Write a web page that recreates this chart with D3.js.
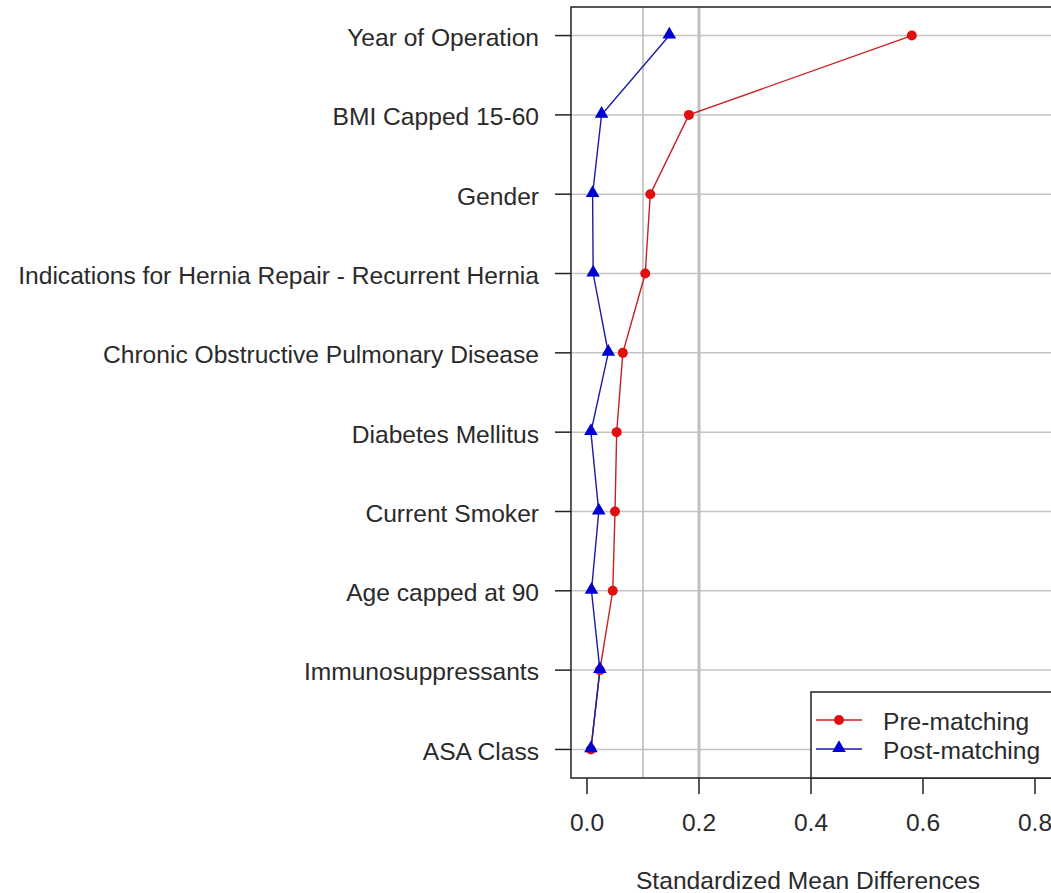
<!DOCTYPE html>
<html><head><meta charset="utf-8">
<script src="https://cdn.jsdelivr.net/npm/d3@7"></script>
<style>body{margin:0;background:#fff;} text{font-family:"Liberation Sans",Arial,sans-serif;}</style>
</head><body>
<svg id="chart" width="1051" height="893"></svg>
<script>
const categories = ["Year of Operation","BMI Capped 15-60","Gender","Indications for Hernia Repair - Recurrent Hernia","Chronic Obstructive Pulmonary Disease","Diabetes Mellitus","Current Smoker","Age capped at 90","Immunosuppressants","ASA Class"];
const preMatching  = [0.580,0.182,0.113,0.104,0.064,0.053,0.050,0.046,0.023,0.007];
const postMatching = [0.147,0.026,0.010,0.011,0.038,0.007,0.021,0.008,0.023,0.007];
const xTicks = [0.0,0.2,0.4,0.6,0.8];
const xTickLabels = ["0.0","0.2","0.4","0.6","0.8"];
const refLines = [0.1,0.2];
const seriesNames = ["Pre-matching","Post-matching"];

const svg = d3.select("#chart");
const x = d3.scaleLinear().domain([0,0.8]).range([587,1035]);
const n = categories.length;
const y = d3.scaleLinear().domain([0.64, n+0.36]).range([778,7]);
const yPos = i => y(n - i);
const xLeft = x(-0.0286), xRight = 1070, yTop = y(n+0.36), yBot = y(0.64);
const FS = 24.6;

svg.append("g").selectAll("line").data(categories).join("line")
  .attr("x1",xLeft).attr("x2",xRight)
  .attr("y1",(d,i)=>yPos(i)).attr("y2",(d,i)=>yPos(i))
  .attr("stroke","#c4c4c4").attr("stroke-width",1.5);
svg.append("g").selectAll("line").data(refLines).join("line")
  .attr("x1",d=>x(d)).attr("x2",d=>x(d)).attr("y1",yTop).attr("y2",yBot)
  .attr("stroke",(d,i)=>i===0?"#b8b8b8":"#c0c0c0").attr("stroke-width",(d,i)=>i===0?1.5:3);

const line = d3.line().x(d=>x(d.v)).y(d=>yPos(d.i));
const pre = preMatching.map((v,i)=>({v,i}));
const post = postMatching.map((v,i)=>({v,i}));
svg.append("path").attr("d",line(pre)).attr("fill","none").attr("stroke","#c82020").attr("stroke-width",1.4);
svg.append("path").attr("d",line(post)).attr("fill","none").attr("stroke","#1a1aa8").attr("stroke-width",1.4);
svg.append("g").selectAll("circle").data(pre).join("circle")
  .attr("cx",d=>x(d.v)).attr("cy",d=>yPos(d.i)).attr("r",5).attr("fill","#e01010");
const tri = d3.symbol().type(d3.symbolTriangle).size(80);
svg.append("g").selectAll("path").data(post).join("path")
  .attr("d",tri).attr("transform",d=>`translate(${x(d.v)},${yPos(d.i)-1})`).attr("fill","#0000d0");

svg.append("g").selectAll("line").data(categories).join("line")
  .attr("x1",xLeft-16).attr("x2",xLeft).attr("y1",(d,i)=>yPos(i)).attr("y2",(d,i)=>yPos(i))
  .attr("stroke","#222").attr("stroke-width",1.5);
svg.append("g").selectAll("text").data(categories).join("text")
  .attr("x",539).attr("y",(d,i)=>yPos(i)+1.5).attr("dy","0.36em").attr("text-anchor","end")
  .attr("font-size",FS).attr("fill","#2a2a2a").text(d=>d);

const xa = svg.append("g").attr("transform",`translate(0,${yBot})`);
xa.selectAll("line").data(xTicks).join("line")
  .attr("x1",d=>x(d)).attr("x2",d=>x(d)).attr("y1",0).attr("y2",16).attr("stroke","#222").attr("stroke-width",1.5);
xa.selectAll("text").data(xTicks).join("text")
  .attr("x",d=>x(d)).attr("y",44).attr("dy","0.36em").attr("text-anchor","middle")
  .attr("font-size",FS).attr("fill","#2a2a2a").text((d,i)=>xTickLabels[i]);
svg.append("text").attr("x",808).attr("y",880).attr("dy","0.36em").attr("text-anchor","middle")
  .attr("font-size",FS).attr("fill","#2a2a2a").text("Standardized Mean Differences");

svg.append("rect").attr("x",xLeft).attr("y",yTop).attr("width",xRight-xLeft).attr("height",yBot-yTop)
  .attr("fill","none").attr("stroke","#222").attr("stroke-width",1.5);

const lg = svg.append("g");
lg.append("rect").attr("x",x(0.4)).attr("y",692).attr("width",xRight-x(0.4)).attr("height",yBot-692)
  .attr("fill","#fff").attr("stroke","#222").attr("stroke-width",1.5);
const colors = ["#c82020","#1a1aa8"], mcol = ["#e01010","#0000d0"];
seriesNames.forEach((s,i)=>{
  const yy = 720 + i*29;
  lg.append("line").attr("x1",816).attr("x2",862).attr("y1",yy).attr("y2",yy).attr("stroke",colors[i]).attr("stroke-width",1.4);
  if(i===0) lg.append("circle").attr("cx",839).attr("cy",yy).attr("r",5).attr("fill",mcol[i]);
  else lg.append("path").attr("d",tri).attr("transform",`translate(839,${yy-1})`).attr("fill",mcol[i]);
  lg.append("text").attr("x",883).attr("y",yy+1).attr("dy","0.36em").attr("font-size",FS).attr("fill","#2a2a2a").text(s);
});
</script>
</body></html>
